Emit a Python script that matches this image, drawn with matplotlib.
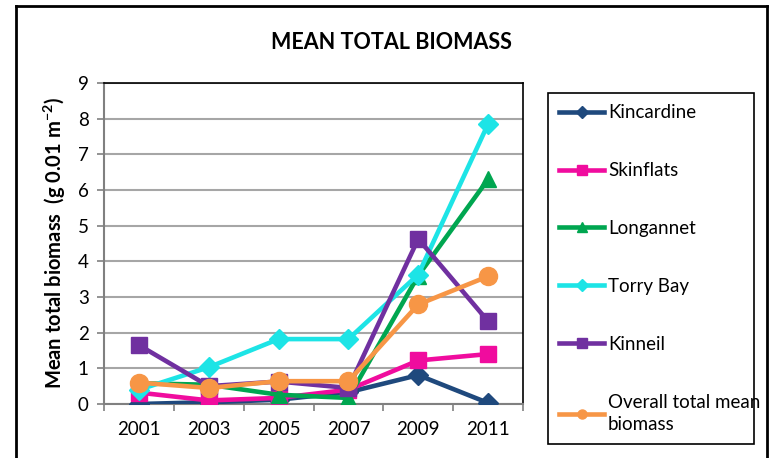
import numpy as np
import matplotlib.pyplot as plt
from matplotlib.lines import Line2D

plt.rcParams['font.family'] = ['Lato', 'DejaVu Sans']
plt.rcParams['mathtext.fontset'] = 'custom'
plt.rcParams['mathtext.rm'] = 'Lato'
plt.rcParams['mathtext.bf'] = 'Lato:bold'

# survey years and mean biomass per site
years = ['2001', '2003', '2005', '2007', '2009', '2011']
kincardine = [0.0, 0.05, 0.12, 0.33, 0.81, 0.03]
skinflats = [0.32, 0.1, 0.17, 0.4, 1.22, 1.4]
longannet = [0.58, 0.54, 0.26, 0.17, 3.6, 6.3]
torry_bay = [0.4, 1.03, 1.82, 1.82, 3.63, 7.85]
kinneil = [1.65, 0.5, 0.63, 0.45, 4.63, 2.32]
overall = [0.6, 0.45, 0.64, 0.64, 2.79, 3.58]

series = [
    ('Kincardine', kincardine, '#1F497D', 'D', 10),
    ('Skinflats', skinflats, '#F00C9E', 's', 11),
    ('Longannet', longannet, '#00A650', '^', 12),
    ('Torry Bay', torry_bay, '#1DE4E6', 'D', 10),
    ('Kinneil', kinneil, '#7030A0', 's', 12),
    ('Overall total mean\nbiomass', overall, '#F79646', 'o', 13),
]

fig = plt.figure(figsize=(7.7, 4.58), dpi=100)
ax = fig.add_axes([104/770, 54/458, 419/770, 321/458])

x = np.arange(len(years))
handles = []
for name, vals, col, mk, ms in series:
    ax.plot(x, vals, color=col, lw=3.3, marker=mk, ms=ms, mfc=col, mec=col, zorder=3)
    handles.append(Line2D([], [], color=col, lw=3.3, marker=mk, ms=6.5, mfc=col, mec=col))

ax.set_xlim(-0.5, 5.5)
ax.set_ylim(0, 9)
ax.set_yticks(range(10))
ax.set_xticks(np.arange(-0.5, 6, 1))
ax.set_xticklabels([])
ax.set_xticks(x, minor=True)
ax.set_xticklabels(years, minor=True)
ax.tick_params(axis='x', which='major', direction='out', length=5, color='#808080', width=1.2)
ax.tick_params(axis='x', which='minor', length=0, pad=12, labelsize=13.5)
ax.tick_params(axis='y', direction='out', length=5, color='#808080', width=1.2, pad=6, labelsize=13.5)
ax.grid(axis='y', color='#A6A6A6', lw=1.5, zorder=0)
ax.set_axisbelow(True)
for s in ['left', 'bottom']:
    ax.spines[s].set_color('#808080')
    ax.spines[s].set_linewidth(1.5)
for s in ['top', 'right']:
    ax.spines[s].set_color('black')
    ax.spines[s].set_linewidth(1.2)

ax.set_ylabel(r'Mean total biomass  (g 0.01 m$^{\mathbf{-2}}$)', fontsize=14.5,
              fontweight='bold', labelpad=7)

fig.text(0.509, 0.907, 'MEAN TOTAL BIOMASS', ha='center', va='center',
         fontsize=15.5, fontweight='bold')

leg = fig.legend(handles, [s[0] for s in series], loc='upper left',
                 bbox_to_anchor=(548/770, 1 - 93/458, 206/770, 0), mode='expand',
                 fontsize=13.5, frameon=True, fancybox=False, edgecolor='black',
                 framealpha=1, handlelength=2.4, handletextpad=0.2,
                 labelspacing=2.18, borderpad=0.6, borderaxespad=0)
leg.get_frame().set_linewidth(1.2)
for t in leg.get_texts():
    t.set_linespacing(1.35)

# outer chart border
fig.add_artist(Line2D([16/770, 16/770], [-0.1, 1 - 6/458], color='black', lw=2,
                      transform=fig.transFigure))
fig.add_artist(Line2D([16/770, 767/770], [1 - 6/458, 1 - 6/458], color='black', lw=2,
                      transform=fig.transFigure))
fig.add_artist(Line2D([767/770, 767/770], [-0.1, 1 - 6/458], color='black', lw=2,
                      transform=fig.transFigure))

fig.savefig('out.png', dpi=100)
